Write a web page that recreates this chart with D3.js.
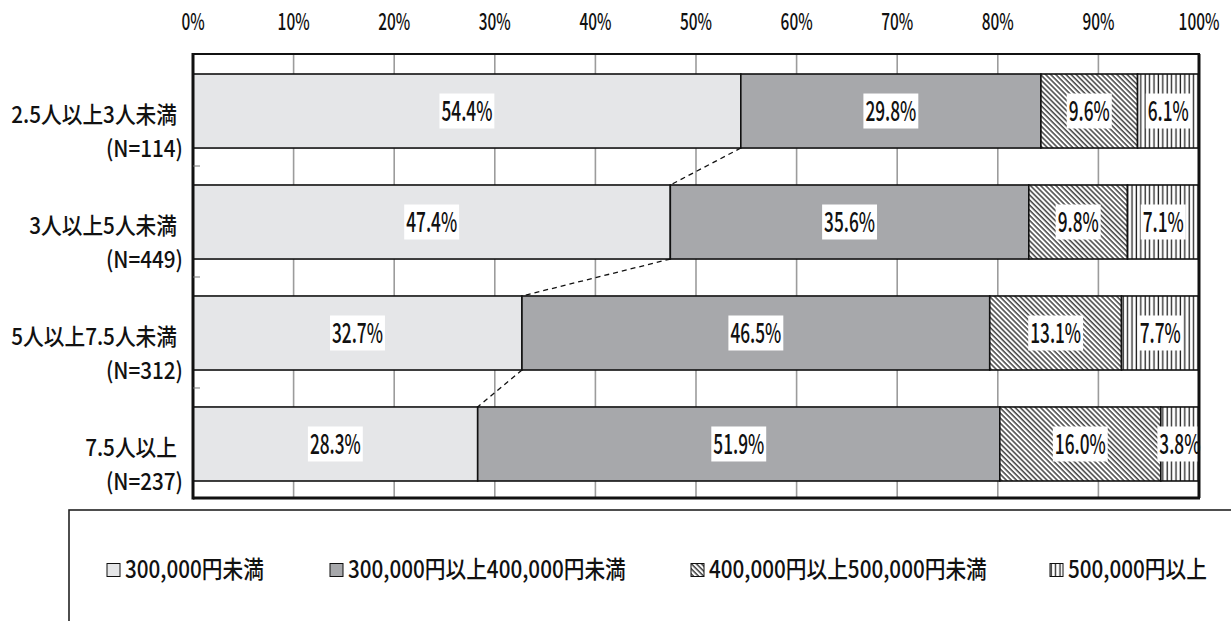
<!DOCTYPE html>
<html>
<head>
<meta charset="utf-8">
<script src="https://cdn.jsdelivr.net/npm/d3@7"></script>
<style>
  body { margin: 0; background: #fff; }
  svg { display: block; }
  text { font-family: "Noto Sans CJK JP", "Noto Sans", sans-serif; font-weight: 500; fill: #111; }
</style>
</head>
<body>
<svg id="chart" width="1231" height="621"></svg>
<script>
// Household size groups and their sample counts
const categories = ["2.5人以上3人未満", "3人以上5人未満", "5人以上7.5人未満", "7.5人以上"];
const sampleSizes = [114, 449, 312, 237];

// Monthly amount brackets (series) and their shares, in percent
const seriesNames = ["300,000円未満", "300,000円以上400,000円未満", "400,000円以上500,000円未満", "500,000円以上"];
const under300k   = [54.4, 47.4, 32.7, 28.3];
const from300to400k = [29.8, 35.6, 46.5, 51.9];
const from400to500k = [9.6, 9.8, 13.1, 16.0];
const over500k    = [6.1, 7.1, 7.7, 3.8];

// Percentage axis ticks
const tickValues = [0, 10, 20, 30, 40, 50, 60, 70, 80, 90, 100];

const seriesValues = [under300k, from300to400k, from400to500k, over500k];

const svg = d3.select("#chart");
const W = 1231, H = 621;
const plot = { left: 193, right: 1199, top: 54, bottom: 498 };

// --- fills --------------------------------------------------------------
const defs = svg.append("defs");
const diag = defs.append("pattern")
  .attr("id", "fillDiag").attr("patternUnits", "userSpaceOnUse")
  .attr("width", 3.6).attr("height", 3.6)
  .attr("patternTransform", "rotate(-45)");
diag.append("rect").attr("width", 3.6).attr("height", 3.6).attr("fill", "#fff");
diag.append("line").attr("x1", 1).attr("x2", 1).attr("y1", 0).attr("y2", 3.6)
  .attr("stroke", "#333").attr("stroke-width", 1.4);

const vert = defs.append("pattern")
  .attr("id", "fillVert").attr("patternUnits", "userSpaceOnUse")
  .attr("width", 4.4).attr("height", 4.4);
vert.append("rect").attr("width", 4.4).attr("height", 4.4).attr("fill", "#fff");
vert.append("line").attr("x1", 1.2).attr("x2", 1.2).attr("y1", 0).attr("y2", 4.4)
  .attr("stroke", "#222").attr("stroke-width", 1.3);

const fills = ["#e5e6e8", "#a7a8ab", "url(#fillDiag)", "url(#fillVert)"];

// --- data rows ----------------------------------------------------------
const rows = categories.map((c, i) => {
  const vals = seriesValues.map(s => s[i]);
  const total = d3.sum(vals);
  let acc = 0;
  const segs = vals.map((v, k) => {
    const x0 = acc / total * 100;
    acc += v;
    const x1 = acc / total * 100;
    return { key: k, value: v, x0, x1 };
  });
  return { category: c, n: sampleSizes[i], segs };
});

// --- scales -------------------------------------------------------------
const x = d3.scaleLinear().domain([0, 100]).range([plot.left, plot.right]);
const y = d3.scaleBand().domain(categories)
  .range([plot.top + 1.5, plot.bottom + 1.5])
  .paddingInner(0.333).paddingOuter(0.1667);
const step = y.step();

// condensed text: font size + horizontal squeeze
const TXT = {
  tick:   { size: 23, sx: 0.67 },
  value:  { size: 27, sx: 0.64 },
  cat:    { size: 23, sx: 0.90 },
  legend: { size: 23.5, sx: 0.88 }
};
function ctext(sel, tx, ty, style) {
  return sel.style("font-size", style.size + "px")
    .attr("transform", `translate(${tx},${ty}) scale(${style.sx},1)`);
}

// --- gridlines ----------------------------------------------------------
svg.append("g")
  .selectAll("line").data(tickValues.slice(1, -1)).join("line")
  .attr("x1", d => x(d)).attr("x2", d => x(d))
  .attr("y1", plot.top).attr("y2", plot.bottom)
  .attr("stroke", "#9c9c9c").attr("stroke-width", 1.6);

// --- top axis labels ----------------------------------------------------
const fmtPct = d => d + "%";
svg.append("g").selectAll("text").data(tickValues).join("text")
  .attr("text-anchor", "middle")
  .each(function (d) { ctext(d3.select(this), x(d), 29.5, TXT.tick); })
  .text(fmtPct);

// --- bars ---------------------------------------------------------------
const rowG = svg.append("g").selectAll("g").data(rows).join("g")
  .attr("transform", d => `translate(0,${y(d.category)})`);

rowG.selectAll("rect").data(d => d.segs).join("rect")
  .attr("x", d => x(d.x0))
  .attr("width", d => x(d.x1) - x(d.x0))
  .attr("y", 0).attr("height", y.bandwidth())
  .attr("fill", d => fills[d.key])
  .attr("stroke", "#111").attr("stroke-width", 1.6);

// --- series lines between first-series ends -----------------------------
const links = d3.pairs(rows);
svg.append("g").selectAll("line").data(links).join("line")
  .attr("x1", d => x(d[0].segs[0].x1))
  .attr("y1", d => y(d[0].category) + y.bandwidth())
  .attr("x2", d => x(d[1].segs[0].x1))
  .attr("y2", d => y(d[1].category))
  .attr("stroke", "#111").attr("stroke-width", 1.3)
  .attr("stroke-dasharray", "5,4");

// --- data labels --------------------------------------------------------
const labelG = rowG.selectAll("g.lbl").data(d => d.segs).join("g").attr("class", "lbl");
labelG.each(function (d) {
  const g = d3.select(this);
  const cx = (x(d.x0) + x(d.x1)) / 2;
  const cy = y.bandwidth() / 2;
  const t = g.append("text").attr("text-anchor", "middle").text(d.value.toFixed(1) + "%");
  ctext(t, cx, cy + 10, TXT.value);
  const w = t.node().getComputedTextLength() * TXT.value.sx + 4;
  g.insert("rect", "text")
    .attr("x", cx - w / 2).attr("width", w)
    .attr("y", cy - 17.5).attr("height", 35)
    .attr("fill", "#fff");
});

// --- plot frame & category axis ----------------------------------------
svg.append("rect")
  .attr("x", plot.left).attr("y", plot.top)
  .attr("width", plot.right - plot.left).attr("height", plot.bottom - plot.top)
  .attr("fill", "none").attr("stroke", "#111").attr("stroke-width", 2);
svg.append("line")
  .attr("x1", plot.left).attr("x2", plot.left)
  .attr("y1", plot.top - 1).attr("y2", plot.bottom + 1.5)
  .attr("stroke", "#111").attr("stroke-width", 3);
svg.append("line")
  .attr("x1", plot.left).attr("x2", plot.right + 1)
  .attr("y1", plot.bottom).attr("y2", plot.bottom)
  .attr("stroke", "#111").attr("stroke-width", 3);
svg.append("line")
  .attr("x1", plot.right).attr("x2", plot.right)
  .attr("y1", plot.top).attr("y2", plot.bottom)
  .attr("stroke", "#111").attr("stroke-width", 3);

// category boundary ticks
svg.append("g").selectAll("line").data(categories.slice(1)).join("line")
  .attr("x1", plot.left).attr("x2", plot.left + 7)
  .attr("y1", d => y(d) - step * y.paddingInner() / 2 - 0.5)
  .attr("y2", d => y(d) - step * y.paddingInner() / 2 - 0.5)
  .attr("stroke", "#777").attr("stroke-width", 1);

// category labels
const catG = svg.append("g").selectAll("g").data(rows).join("g");
catG.each(function (d) {
  const g = d3.select(this);
  const cy = y(d.category) + y.bandwidth() / 2;
  ctext(g.append("text").attr("text-anchor", "end").text(d.category), 177, cy + 12, TXT.cat);
  ctext(g.append("text").attr("text-anchor", "end").text(`(N=${d.n})`), 183, cy + 46, TXT.cat);
});

// --- legend -------------------------------------------------------------
svg.append("rect")
  .attr("x", 69).attr("y", 510).attr("width", W).attr("height", H)
  .attr("fill", "#fff").attr("stroke", "#222").attr("stroke-width", 1.6);
const legendX = [107, 330, 691, 1050];
const legG = svg.append("g").selectAll("g").data(seriesNames).join("g")
  .attr("transform", (d, i) => `translate(${legendX[i]},570)`);
legG.append("rect")
  .attr("x", 0).attr("y", -6.5).attr("width", 13).attr("height", 13)
  .attr("fill", (d, i) => fills[i]).attr("stroke", "#111").attr("stroke-width", 1);
legG.each(function (d) {
  ctext(d3.select(this).append("text").text(d), 18, 8, TXT.legend);
});
</script>
</body>
</html>
